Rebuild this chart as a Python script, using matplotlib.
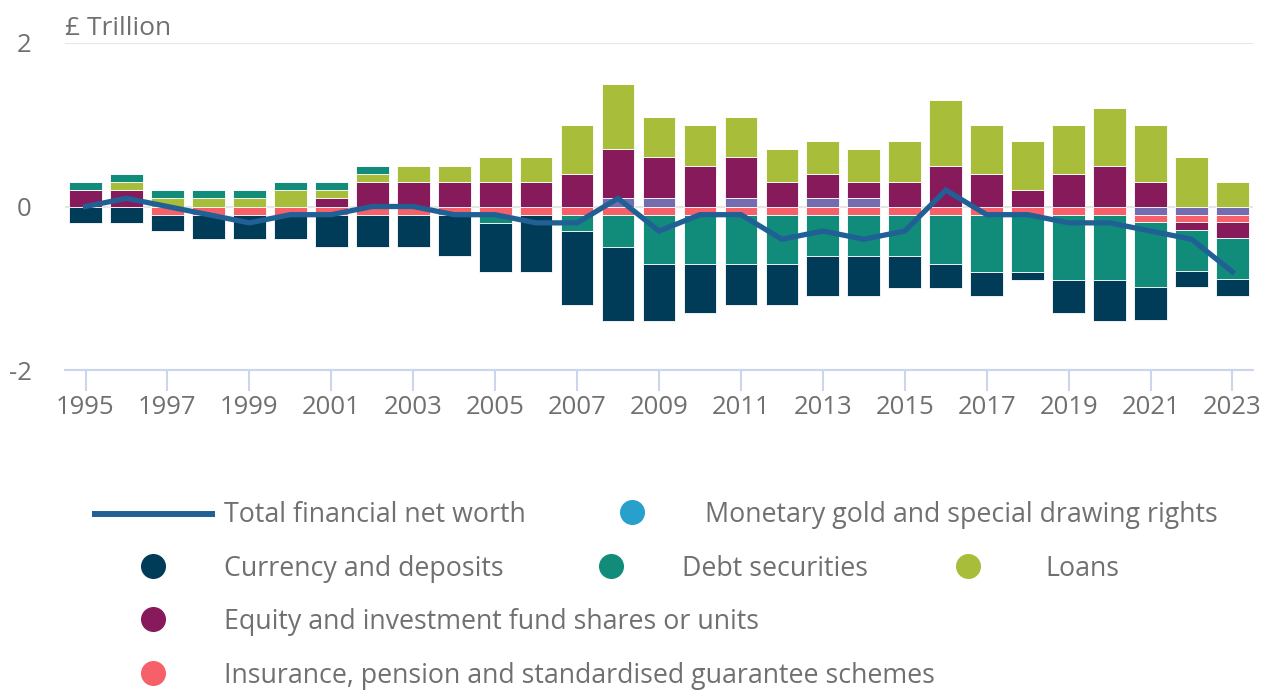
import numpy as np
import matplotlib.pyplot as plt
from matplotlib.lines import Line2D

plt.rcParams['font.family'] = ['Open Sans', 'DejaVu Sans']

years = np.arange(1995, 2024)

# £ trillion
currency = [-0.2, -0.2, -0.2, -0.3, -0.3, -0.3, -0.4, -0.4, -0.4, -0.5,
            -0.6, -0.7, -0.9, -0.9, -0.7, -0.6, -0.5, -0.5, -0.5, -0.5,
            -0.4, -0.3, -0.3, -0.1, -0.4, -0.5, -0.4, -0.2, -0.2]
debt = [0.1, 0.1, 0.1, 0.1, 0.1, 0.1, 0.1, 0.1, 0.0, 0.0,
        -0.1, 0.0, -0.2, -0.4, -0.6, -0.6, -0.6, -0.6, -0.5, -0.5,
        -0.5, -0.6, -0.7, -0.7, -0.8, -0.8, -0.8, -0.5, -0.5]
loans = [0.0, 0.1, 0.1, 0.1, 0.1, 0.2, 0.1, 0.1, 0.2, 0.2,
         0.3, 0.3, 0.6, 0.8, 0.5, 0.5, 0.5, 0.4, 0.4, 0.4,
         0.5, 0.8, 0.6, 0.6, 0.6, 0.7, 0.7, 0.6, 0.3]
equity = [0.2, 0.2, 0.0, 0.0, 0.0, 0.0, 0.1, 0.3, 0.3, 0.3,
          0.3, 0.3, 0.4, 0.6, 0.5, 0.5, 0.5, 0.3, 0.3, 0.2,
          0.3, 0.5, 0.4, 0.2, 0.4, 0.5, 0.3, -0.1, -0.2]
insurance = [0.0, 0.0, -0.1, -0.1, -0.1, -0.1, -0.1, -0.1, -0.1, -0.1,
             -0.1, -0.1, -0.1, -0.1, -0.1, -0.1, -0.1, -0.1, -0.1, -0.1,
             -0.1, -0.1, -0.1, -0.1, -0.1, -0.1, -0.09, -0.09, -0.09]
derivatives = [0.0, 0.0, 0.0, 0.0, 0.0, 0.0, 0.0, 0.0, 0.0, 0.0,
               0.0, 0.0, 0.0, 0.1, 0.1, 0.0, 0.1, 0.0, 0.1, 0.1,
               0.0, 0.0, 0.0, 0.0, 0.0, 0.0, -0.1, -0.1, -0.1]
gold = [0.0] * 29
net_worth = [0.0, 0.1, 0.0, -0.1, -0.2, -0.1, -0.1, 0.0, 0.0, -0.1,
             -0.1, -0.2, -0.2, 0.1, -0.3, -0.1, -0.1, -0.4, -0.3, -0.4,
             -0.3, 0.2, -0.1, -0.1, -0.2, -0.2, -0.3, -0.4, -0.8]

GREY = '#707070'
C_LINE = '#206095'
C_GOLD = '#27a0cc'
C_CUR = '#003c57'
C_DEBT = '#118c7b'
C_LOANS = '#a8bd3a'
C_EQ = '#871a5b'
C_INS = '#f66068'
C_DER = '#746cb1'

fig = plt.figure(figsize=(12.7, 6.91), dpi=100)
ax = fig.add_axes([0.0512, 0.4645, 0.9354, 0.4733])

# stacked from zero outwards, separately for positive and negative parts
stack = [(derivatives, C_DER), (insurance, C_INS), (equity, C_EQ),
         (loans, C_LOANS), (debt, C_DEBT), (currency, C_CUR), (gold, C_GOLD)]
pos = np.zeros(len(years))
neg = np.zeros(len(years))
for vals, col in stack:
    v = np.array(vals)
    bottom = np.where(v >= 0, pos, neg)
    ax.bar(years, v, bottom=bottom, width=0.8, color=col,
           edgecolor='white', linewidth=0.6, zorder=2)
    pos += np.where(v > 0, v, 0)
    neg += np.where(v < 0, v, 0)

ax.plot(years, net_worth, color=C_LINE, linewidth=3.8, zorder=3,
        solid_joinstyle='miter')

ax.set_xlim(1994.5, 2023.5)
ax.set_ylim(-2, 2)
ax.set_yticks([-2, 0, 2])
ax.set_yticklabels(['-2', '0', '2'])
ax.set_xticks(years[::2])
ax.grid(axis='y', color='#e6e6e6', linewidth=1.5, zorder=0)
ax.set_axisbelow(True)
for s in ['top', 'right', 'left']:
    ax.spines[s].set_visible(False)
ax.spines['bottom'].set_color('#ccd6eb')
ax.spines['bottom'].set_linewidth(1.5)
ax.tick_params(axis='x', colors='#ccd6eb', length=15, width=1.5,
               labelcolor=GREY, labelsize=18.5, pad=3)
ax.tick_params(axis='y', length=0, labelcolor=GREY, labelsize=18.5, pad=24)

fig.text(0.0512, 0.959, '£ Trillion', color=GREY, fontsize=19,
         ha='left', va='center')

# legend drawn by hand to match the layout
def px(x, y):
    return x / 1270, 1 - y / 691

items = [
    ('line', C_LINE, 95, 514, 224, 'Total financial net worth'),
    ('dot', C_GOLD, 632, 512, 705, 'Monetary gold and special drawing rights'),
    ('dot', C_CUR, 153, 566, 224, 'Currency and deposits'),
    ('dot', C_DEBT, 611, 566, 682, 'Debt securities'),
    ('dot', C_LOANS, 968, 566, 1045, 'Loans'),
    ('dot', C_EQ, 153, 619, 224, 'Equity and investment fund shares or units'),
    ('dot', C_INS, 153, 673, 224, 'Insurance, pension and standardised guarantee schemes'),
]
for kind, col, mx, my, tx, label in items:
    if kind == 'line':
        x0, y0 = px(mx, my)
        x1, _ = px(212, my)
        fig.add_artist(Line2D([x0, x1], [y0, y0], color=col, linewidth=4.3,
                              transform=fig.transFigure))
        ty = my + 1
    else:
        x0, y0 = px(mx, my)
        fig.add_artist(Line2D([x0], [y0], marker='o', markersize=17,
                              color=col, linestyle='none',
                              transform=fig.transFigure))
        ty = my + 3
    tx0, ty0 = px(tx, ty)
    fig.text(tx0, ty0, label, color=GREY, fontsize=19.3, ha='left',
             va='center')

plt.savefig('out.png', dpi=100)
plt.close()
